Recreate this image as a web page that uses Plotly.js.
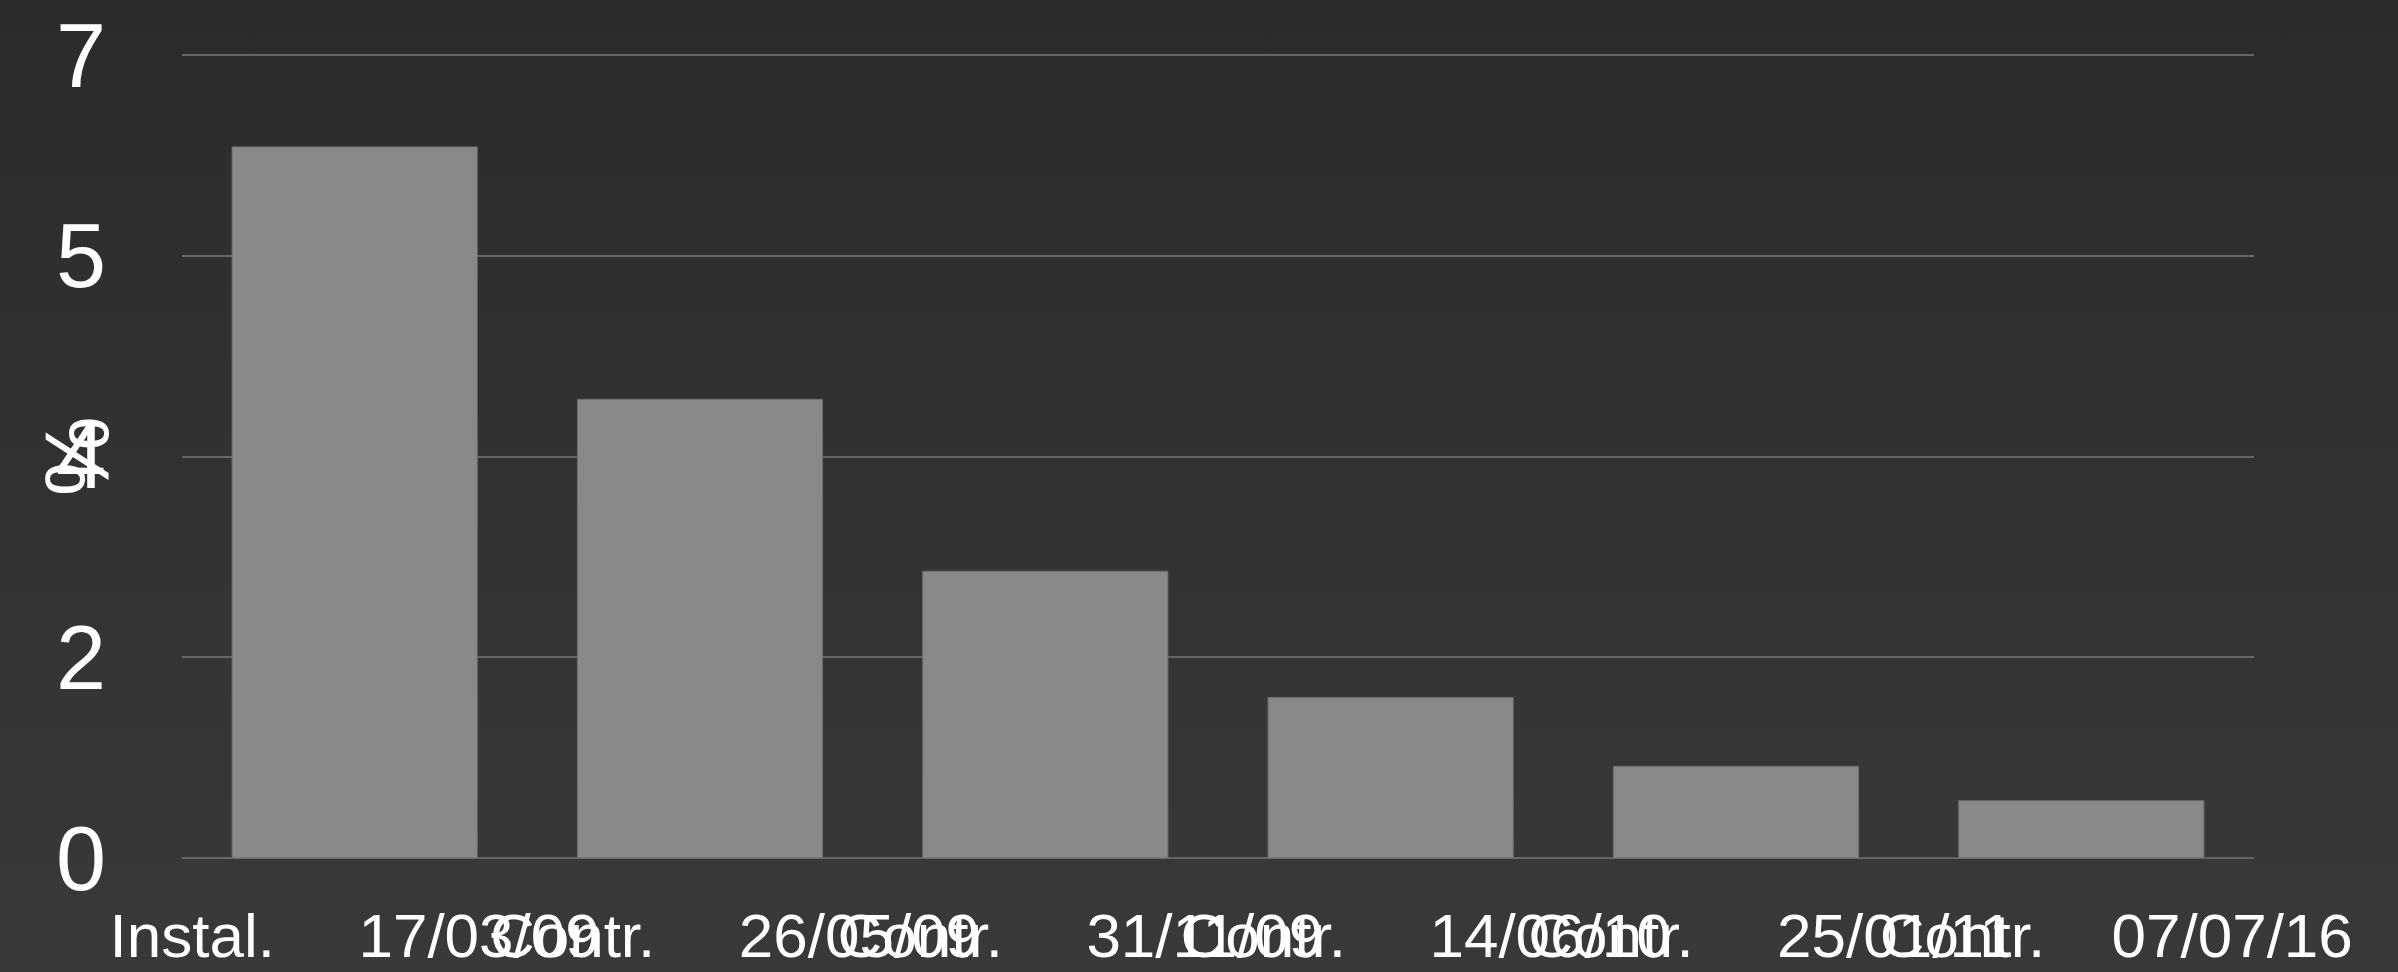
<!DOCTYPE html>
<html>
<head>
<meta charset="utf-8">
<script src="https://cdn.plot.ly/plotly-3.0.1.min.js"></script>
<style>
  html, body { margin: 0; padding: 0; width: 2398px; height: 972px; overflow: hidden;
    background: linear-gradient(to bottom, #2b2b2b 0%, #393939 100%); }
  #chart { width: 2398px; height: 972px; }
</style>
</head>
<body>
<div id="chart"></div>
<script>
// ---- data ----
const categories = [
  "Instal. \u202817/03/09",
  "Contr. \u202826/05/09",
  "Contr. \u202831/11/09",
  "Contr. \u202814/06/10",
  "Contr.\u2028 25/01/11",
  "Contr.\u202807/07/16"
];
const values = [6.2, 4.0, 2.5, 1.4, 0.8, 0.5];
const yTitle = "%";

// the line-separator character is drawn as a wide box in the reference; give it that width
const labelHtml = (s) => s.replace("\u2028", '<span style="letter-spacing:49px">\u2028</span>');
const idx = categories.map((c, i) => i);

const bars = {
  type: "bar",
  x: categories,
  y: values,
  marker: { color: "#898989", line: { color: "#6e6e6e", width: 1 } },
  hoverinfo: "none"
};
// carries the second label row (draws nothing itself)
const labelCarrier = {
  type: "scatter",
  mode: "none",
  x: categories,
  y: values,
  xaxis: "x2",
  yaxis: "y",
  hoverinfo: "skip",
  showlegend: false
};

const tickFont = { family: "Liberation Sans, Arial, sans-serif", size: 62, color: "#ffffff" };

const layout = {
  width: 2398,
  height: 972,
  paper_bgcolor: "rgba(0,0,0,0)",
  plot_bgcolor: "rgba(0,0,0,0)",
  margin: { l: 182, r: 144, t: 54, b: 114, pad: 0 },
  bargap: 0.29,
  showlegend: false,
  font: { family: "Liberation Sans, Arial, sans-serif", color: "#ffffff" },
  xaxis: {
    type: "category",
    showgrid: false,
    showline: false,
    zeroline: false,
    ticks: "",
    tickangle: 0,
    tickmode: "array",
    tickvals: idx.slice(0, 1),
    ticktext: categories.slice(0, 1).map(labelHtml),
    tickfont: tickFont,
    ticklabelstandoff: 36,
    ticklabeloverflow: "allow",
    automargin: false
  },
  xaxis2: {
    type: "category",
    overlaying: "x",
    anchor: "y",
    side: "bottom",
    matches: "x",
    showgrid: false,
    showline: false,
    zeroline: false,
    ticks: "",
    tickangle: 0,
    tickmode: "array",
    tickvals: idx.slice(1),
    ticktext: categories.slice(1).map(labelHtml),
    tickfont: tickFont,
    ticklabelstandoff: 36,
    ticklabelshift: 35,
    ticklabeloverflow: "allow",
    automargin: false
  },
  yaxis: {
    range: [0, 7.01],
    tick0: 0,
    dtick: 1.75,
    tickformat: ".0f",
    showgrid: true,
    gridcolor: "#666666",
    gridwidth: 2,
    zeroline: true,
    zerolinecolor: "#666666",
    zerolinewidth: 2,
    showline: false,
    ticks: "",
    tickfont: { size: 90, color: "#ffffff" },
    ticklabelstandoff: 75,
    automargin: false
  },
  annotations: [{
    text: yTitle,
    xref: "paper", yref: "paper",
    x: -0.0505, y: 0.5,
    xanchor: "center", yanchor: "middle",
    textangle: -90,
    showarrow: false,
    font: { family: "Liberation Sans, Arial, sans-serif", size: 90, color: "#ffffff" }
  }]
};

Plotly.newPlot("chart", [bars, labelCarrier], layout, { displayModeBar: false, staticPlot: true });
</script>
</body>
</html>
